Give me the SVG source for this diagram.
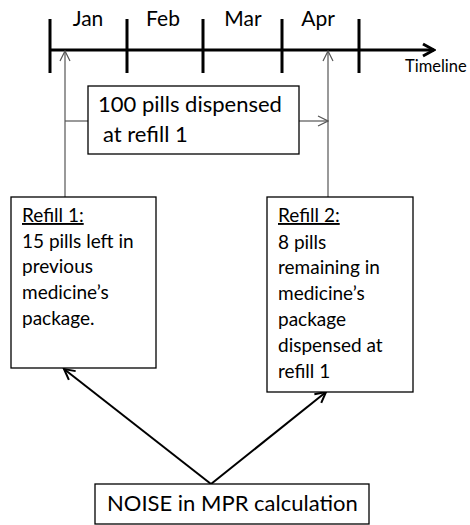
<svg xmlns="http://www.w3.org/2000/svg" width="470" height="525" viewBox="0 0 470 525">
<defs>
<style>
text{font-family:Lato,"Open Sans",sans-serif;fill:#000}
.box{fill:#fff;stroke:#000;stroke-width:1.3}
.mon{font-size:21px;text-anchor:middle}
.t{font-size:22px}
.s{font-size:19px}
.thin{stroke:#555;stroke-width:1.2;fill:none}
.bold{stroke:#000;stroke-width:2;fill:none}
.tl{stroke:#000;stroke-width:3;fill:none}
</style>
<marker id="ah" viewBox="0 0 12 12" refX="11" refY="6" markerWidth="12" markerHeight="12" markerUnits="userSpaceOnUse" orient="auto"><path d="M1,1 L11,6 L1,11" fill="none" stroke="#555" stroke-width="1.2"/></marker>
<marker id="ahb" viewBox="0 0 14 14" refX="12.5" refY="7" markerWidth="14" markerHeight="14" markerUnits="userSpaceOnUse" orient="auto"><path d="M2,1.5 L12.5,7 L2,12.5" fill="none" stroke="#000" stroke-width="2"/></marker>
<marker id="aht" viewBox="0 0 16 16" refX="14" refY="8" markerWidth="16" markerHeight="16" markerUnits="userSpaceOnUse" orient="auto"><path d="M3,2 L14,8 L3,14" fill="none" stroke="#000" stroke-width="3"/></marker>
</defs>
<g id="timeline">
<path class="tl" d="M50,50 H434" marker-end="url(#aht)"/>
<path class="tl" d="M50,19 V73 M127,19 V73 M203,19 V73 M282,19 V73 M359,19 V73"/>
<text class="mon" x="88" y="26">Jan</text>
<text class="mon" x="163" y="26">Feb</text>
<text class="mon" x="243" y="26">Mar</text>
<text class="mon" x="318" y="26">Apr</text>
<text x="405" y="72" font-size="16.5">Timeline</text>
</g>
<g id="connectors">
<path class="thin" d="M65,197 V51" marker-end="url(#ah)"/>
<path class="thin" d="M328,197 V51" marker-end="url(#ah)"/>
<path class="thin" d="M65,121 H88"/>
<path class="thin" d="M299,121 H328" marker-end="url(#ah)"/>
<path class="bold" d="M211,484 L64,369" marker-end="url(#ahb)"/>
<path class="bold" d="M211,484 L326,392" marker-end="url(#ahb)"/>
</g>
<g id="dispensed">
<rect class="box" x="88" y="86" width="211" height="68"/>
<text class="t" x="98" y="112">100 pills dispensed</text>
<text class="t" x="103" y="142">at refill 1</text>
</g>
<g id="refill1">
<rect class="box" x="11" y="197" width="145" height="171"/>
<text class="s" x="22" y="222" text-decoration="underline" fill="#333">Refill  1:</text>
<text class="s" x="22" y="248">15 pills left in</text>
<text class="s" x="22" y="273">previous</text>
<text class="s" x="22" y="299">medicine’s</text>
<text class="s" x="22" y="325">package.</text>
</g>
<g id="refill2">
<rect class="box" x="267" y="197" width="146" height="195"/>
<text class="s" x="278" y="222" text-decoration="underline" fill="#333">Refill  2:</text>
<text class="s" x="278" y="249">8 pills</text>
<text class="s" x="278" y="274">remaining in</text>
<text class="s" x="278" y="300">medicine’s</text>
<text class="s" x="278" y="326">package</text>
<text class="s" x="278" y="352">dispensed  at</text>
<text class="s" x="278" y="378">refill 1</text>
</g>
<g id="noise">
<rect class="box" x="95" y="484" width="274" height="40"/>
<text class="t" x="107" y="511">NOISE in MPR calculation</text>
</g>
</svg>
